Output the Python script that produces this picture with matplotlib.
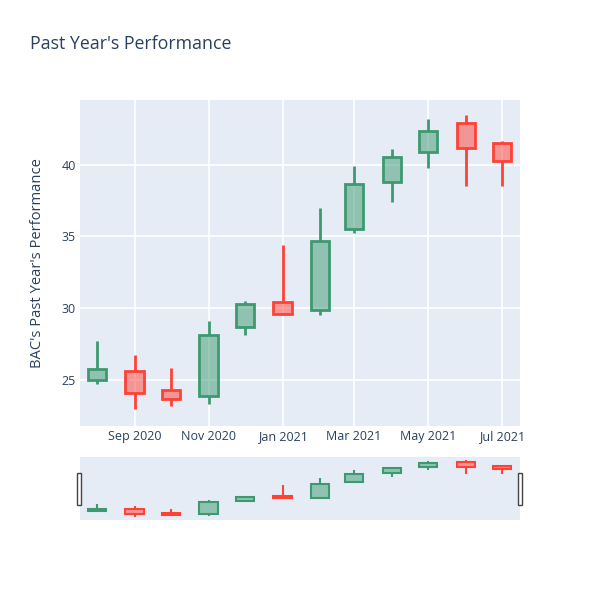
import numpy as np
import pandas as pd
import matplotlib
matplotlib.use("Agg")
import matplotlib.pyplot as plt
import matplotlib.dates as mdates

plt.rcParams['font.family'] = ['Open Sans', 'DejaVu Sans']

# monthly OHLC
months = pd.date_range("2020-08-01", "2021-07-01", freq="MS")
opens = [25.00, 25.58, 24.30, 23.88, 28.68, 30.43, 29.85, 35.49, 38.80, 40.85, 42.90, 41.52]
highs = [27.70, 26.73, 25.82, 29.08, 30.50, 34.37, 37.00, 39.92, 41.08, 43.18, 43.46, 41.66]
lows = [24.70, 22.95, 23.14, 23.30, 28.15, 29.60, 29.55, 35.26, 37.40, 39.76, 38.48, 38.48]
closes = [25.75, 24.07, 23.67, 28.15, 30.29, 29.62, 34.67, 38.64, 40.50, 42.32, 41.17, 40.27]

tick_dates = pd.to_datetime(["2020-09-01", "2020-11-01", "2021-01-01",
                             "2021-03-01", "2021-05-01", "2021-07-01"])
tick_labels = ["Sep 2020", "Nov 2020", "Jan 2021", "Mar 2021", "May 2021", "Jul 2021"]

BG = "#E5ECF6"
TXT = "#2a3f5f"
UP = "#3D9970"
DOWN = "#FF4136"

o = np.array(opens)
h = np.array(highs)
l = np.array(lows)
c = np.array(closes)
x = mdates.date2num(months)
cols = [UP if cc >= oo else DOWN for oo, cc in zip(o, c)]
top = np.maximum(o, c)
bot = np.minimum(o, c)

xlim = (mdates.date2num(pd.Timestamp("2020-07-18 00:00")),
        mdates.date2num(pd.Timestamp("2021-07-15 20:00")))
ylim = (21.78, 44.5)


def draw_candles(ax, lw):
    ax.vlines(x, top, h, colors=cols, lw=lw, zorder=2)
    ax.vlines(x, l, bot, colors=cols, lw=lw, zorder=2)
    for xi, b, t, col in zip(x, bot, top, cols):
        ax.bar(xi, t - b, bottom=b, width=15, color=col, alpha=0.5, zorder=3, linewidth=0)
        ax.bar(xi, t - b, bottom=b, width=15, facecolor="none", edgecolor=col,
               linewidth=lw, zorder=4)


fig = plt.figure(figsize=(6, 6), dpi=100)

ax = fig.add_axes([80 / 600, 174 / 600, 440 / 600, 326 / 600])
ax.set_facecolor(BG)
draw_candles(ax, 2)
ax.set_xlim(*xlim)
ax.set_ylim(*ylim)
ax.set_xticks(mdates.date2num(tick_dates))
ax.set_xticklabels(tick_labels)
ax.set_yticks([25, 30, 35, 40])
ax.grid(True, color="white", lw=1.2, zorder=0)
ax.set_axisbelow(True)
for s in ax.spines.values():
    s.set_visible(False)
ax.tick_params(axis="x", length=0, labelsize=9.0, labelcolor=TXT, pad=3)
ax.tick_params(axis="y", length=0, labelsize=9.0, labelcolor=TXT, pad=3)
ax.set_ylabel("BAC's Past Year's Performance", fontsize=10.6, color=TXT, labelpad=12)

# range slider
sl = fig.add_axes([80 / 600, 80 / 600, 440 / 600, 63 / 600])
sl.set_facecolor(BG)
draw_candles(sl, 1.5)
sl.set_xlim(*xlim)
sl.set_ylim(21.75, 44.66)
sl.set_xticks([])
sl.set_yticks([])
for s in sl.spines.values():
    s.set_visible(False)
for hx in (79 / 600, 520 / 600):
    fig.patches.append(plt.Rectangle((hx - 2 / 600, 95 / 600), 4 / 600, 32 / 600,
                                     transform=fig.transFigure, facecolor="white",
                                     edgecolor="#444444", lw=1))

fig.text(30 / 600, 1 - 44 / 600, "Past Year's Performance", fontsize=12.8,
         color=TXT, va="center", ha="left")

fig.savefig("out.png", dpi=100)
